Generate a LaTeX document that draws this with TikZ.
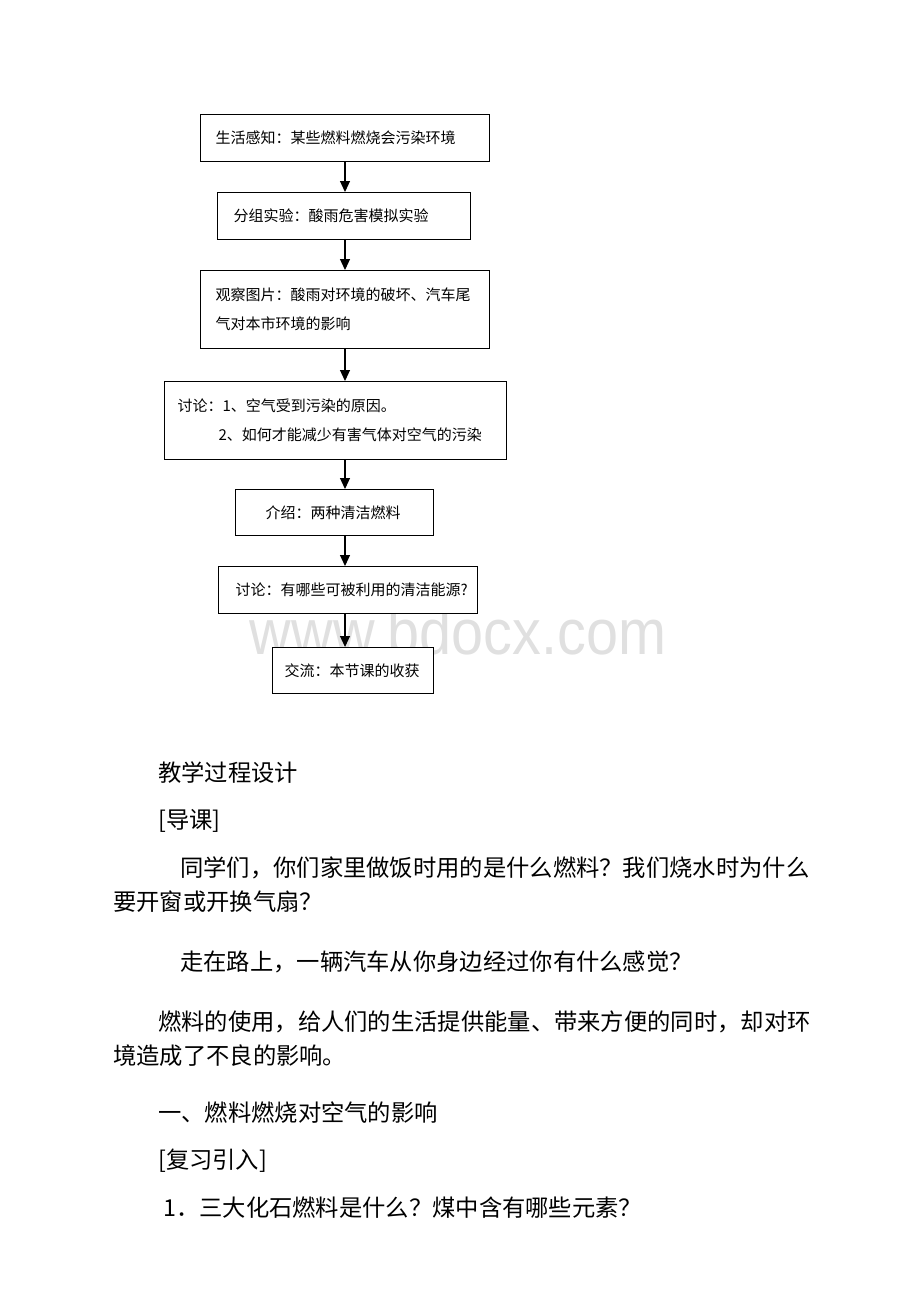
\documentclass[tikz,border=0pt]{standalone}
\usepackage{fontspec}
\newfontfamily\zhfont{Noto Sans CJK SC}
\newfontfamily\wmfont{Liberation Sans}
\usetikzlibrary{arrows.meta}
\begin{document}
\begin{tikzpicture}[x=1pt,y=-1pt,
    flowbox/.style={draw, line width=1.1pt, fill=white, anchor=north west, align=left,
        inner ysep=0pt, font=\zhfont\fontsize{15}{29}\selectfont},
    arr/.style={line width=1.1pt, -{Triangle[width=10pt,length=11pt]}},
    bodytext/.style={anchor=west, inner sep=0pt, text height=20.5pt, text depth=2.8pt,
        font=\zhfont\fontsize{23.3}{34}\selectfont},
    watermark/.style={anchor=base, inner sep=0pt, text=black!12, xscale=0.9,
        font=\wmfont\fontsize{64}{64}\selectfont}]
    \useasboundingbox (0,0) rectangle (920,1302);
    \node[watermark] (wm) at (458,654) {www.bdocx.com};
    \coordinate (ax) at (345,0);
    \node[flowbox, minimum width=289pt, minimum height=47pt, inner xsep=15pt, text width=259pt] (b1) at (200,114) {生活感知：某些燃料燃烧会污染环境};
    \node[flowbox, minimum width=253pt, minimum height=47pt, inner xsep=16pt, text width=221pt] (b2) at (217,192) {分组实验：酸雨危害模拟实验};
    \node[flowbox, minimum width=289pt, minimum height=78pt, inner xsep=15pt, text width=259pt] (b3) at (200,270) {观察图片：酸雨对环境的破坏、汽车尾\\气对本市环境的影响};
    \node[flowbox, minimum width=342pt, minimum height=78pt, inner xsep=13pt, text width=316pt] (b4) at (164,381) {讨论：1、空气受到污染的原因。\\\hspace*{41pt}2、如何才能减少有害气体对空气的污染};
    \node[flowbox, minimum width=198pt, minimum height=46pt, inner xsep=30pt, text width=138pt] (b5) at (235,489) {介绍：两种清洁燃料};
    \node[flowbox, minimum width=259pt, minimum height=47pt, inner xsep=17pt, text width=225pt] (b6) at (218,566) {讨论：有哪些可被利用的清洁能源?};
    \node[flowbox, minimum width=161pt, minimum height=46pt, inner xsep=12pt, text width=137pt] (b7) at (272,647) {交流：本节课的收获};
    \draw[arr] (b1.south -| ax) -- (b2.north -| ax);
    \draw[arr] (b2.south -| ax) -- (b3.north -| ax);
    \draw[arr] (b3.south -| ax) -- (b4.north -| ax);
    \draw[arr] (b4.south -| ax) -- (b5.north -| ax);
    \draw[arr] (b5.south -| ax) -- (b6.north -| ax);
    \draw[arr] (b6.south -| ax) -- (b7.north -| ax);
    \node[bodytext] (t1) at (158,773) {教学过程设计};
    \node[bodytext] (t2) at (158,820) {[导课]};
    \node[bodytext] (t3) at (180,868) {同学们，你们家里做饭时用的是什么燃料？我们烧水时为什么};
    \node[bodytext] (t4) at (113,902) {要开窗或开换气扇？};
    \node[bodytext] (t5) at (180,962) {走在路上，一辆汽车从你身边经过你有什么感觉？};
    \node[bodytext] (t6) at (158,1022) {燃料的使用，给人们的生活提供能量、带来方便的同时，却对环};
    \node[bodytext] (t7) at (113,1056) {境造成了不良的影响。};
    \node[bodytext] (t8) at (158,1113) {一、燃料燃烧对空气的影响};
    \node[bodytext] (t9) at (158,1160) {[复习引入]};
    \node[bodytext] (t10) at (163,1208) {1．三大化石燃料是什么？煤中含有哪些元素？};
\end{tikzpicture}
\end{document}
